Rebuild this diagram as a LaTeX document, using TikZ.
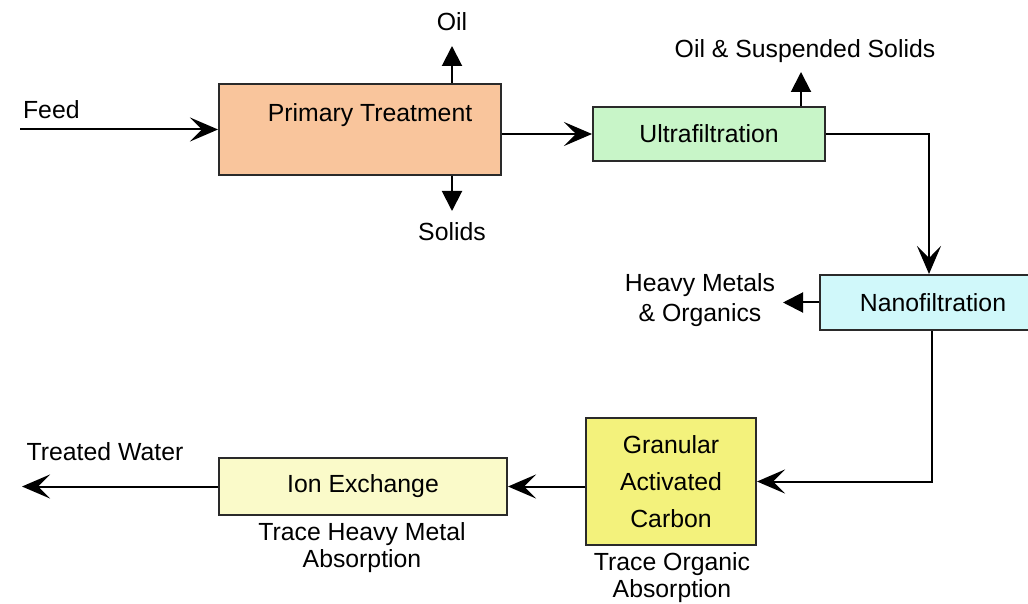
\documentclass[tikz,border=0pt]{standalone}
\usepackage{fontspec}
\setmainfont{Liberation Sans}
\usepackage{xcolor}
\usepackage{tikz}
\usetikzlibrary{arrows.meta}

\definecolor{primaryfill}{HTML}{F9C59C}
\definecolor{ultrafill}{HTML}{C8F5C8}
\definecolor{nanofill}{HTML}{D0F8FA}
\definecolor{carbonfill}{HTML}{F3F27C}
\definecolor{ionfill}{HTML}{FAFAC9}
\definecolor{edge}{HTML}{2A2A2A}

\begin{document}
\begin{tikzpicture}[x=0.5pt,y=-0.5pt,
		font=\fontsize{12.4}{15}\selectfont,
		unit/.style={shape=rectangle,draw=edge,line width=1pt,inner sep=0pt},
		flow/.style={draw=black,line width=1pt,-{Stealth[length=14pt,width=12pt,inset=6pt]}},
		side/.style={draw=black,line width=1pt,-{Triangle[length=10pt,width=10pt]}}]
				\useasboundingbox (0,0) rectangle (1028,604);
				
				\node[unit,fill=primaryfill,minimum width=141pt,minimum height=45.5pt] (primary) at (360,129.5) {};
				\node[unit,fill=ultrafill,minimum width=116pt,minimum height=27pt] (ultra) at (709,134) {Ultrafiltration};
				\node[unit,fill=nanofill,minimum width=105pt,minimum height=27.5pt] (nano) at (925,302.5) {};
				\node[unit,fill=carbonfill,minimum width=85pt,minimum height=63.5pt,align=center] (carbon) at (671,481.5) {Granular\\[3.5pt]Activated\\[3.5pt]Carbon};
				\node[unit,fill=ionfill,minimum width=144pt,minimum height=28.5pt] (ion) at (363,486.5) {Ion Exchange};
				\node (primarytext) at (370,115) {Primary Treatment};
				\node (nanotext) at (933,302.5) {Nanofiltration};
				
				\coordinate (feed) at (20,129.5);
				\coordinate (oil) at (452,46);
				\coordinate (solids) at (452,211);
				\coordinate (suspended) at (801,72);
				\coordinate (metals) at (783,302.5);
				\coordinate (treated) at (22,486.5);
				
				\node[anchor=west] (feedtext) at (16,110) {Feed};
				\node (oiltext) at (452,22) {Oil};
				\node (solidstext) at (452,232) {Solids};
				\node (suspendedtext) at (805,51) {Oil \& Suspended Solids};
				\node[align=center] (metalstext) at (700,300) {Heavy Metals\\\& Organics};
				\node (treatedtext) at (105,452) {Treated Water};
				\node[align=center,font=\fontsize{12.4}{13.5}\selectfont] (iontext) at (362,548) {Trace Heavy Metal\\Absorption};
				\node[align=center,font=\fontsize{12.4}{13.5}\selectfont] (carbontext) at (672,578) {Trace Organic\\Absorption};
				
				\path[flow] (feed) -- (primary.west);
				\path[side] (oil |- primary.north) -- (oil);
				\path[side] (solids |- primary.south) -- (solids);
				\path[flow] (primary.east |- ultra.west) -- (ultra.west);
				\path[side] (suspended |- ultra.north) -- (suspended);
				\path[flow] (ultra.east) -| ([xshift=2pt]nano.north);
				\path[side] (nano.west) -- (metals);
				\path[flow] ([xshift=3.5pt]nano.south) |- (carbon.east);
				\path[flow] (carbon.west |- ion.east) -- (ion.east);
				\path[flow] (ion.west) -- (treated);
			\end{tikzpicture}
\end{document}
